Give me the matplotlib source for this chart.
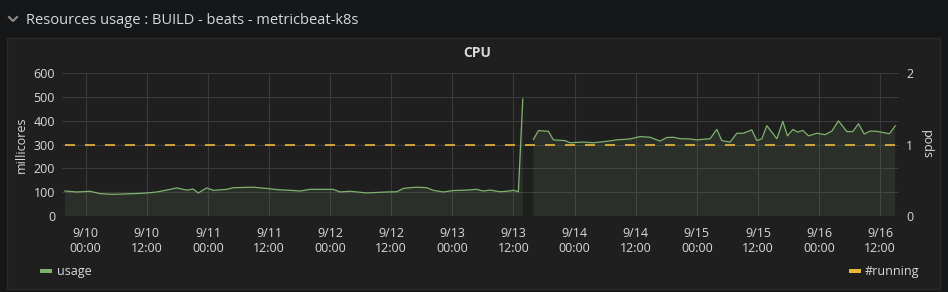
import numpy as np
import matplotlib
matplotlib.use('Agg')
import matplotlib.pyplot as plt
import matplotlib.dates as mdates
from matplotlib.lines import Line2D
from matplotlib.patches import Rectangle
from datetime import datetime, timedelta

# hours since 9/10 00:00 and CPU usage (millicores); NaN = no data
hours = [-4.07, -1.77, 0.84, 2.81, 5.42, 8.05, 10.66, 12.63, 13.94, 15.91,
         17.87, 19.84, 21.13, 22.11, 23.76, 25.06, 27.69, 28.99, 32.92, 35.55,
         37.51, 40.12, 42.09, 44.05, 46.02, 48.63, 49.95, 51.91, 55.19, 59.12,
         61.08, 62.38, 63.69, 65.01, 66.97, 68.27, 70.23, 72.20, 74.83, 76.79,
         78.09, 79.41, 81.37, 82.69, 83.98, 84.96, 85.83, 86.8,
         87.91, 88.89, 90.86, 91.84, 94.14, 95.12, 97.73, 99.69, 102.33, 104.29,
         106.90, 108.87, 110.83, 112.79, 114.11, 115.41, 116.72, 118.69, 120.00,
         122.61, 123.93, 124.91, 126.54, 127.86, 129.15, 130.80, 131.79, 132.77,
         133.75, 135.71, 136.89, 137.80, 138.86, 139.76, 140.82, 141.92, 143.57,
         145.20, 146.52, 147.81, 149.46, 150.64, 151.74, 152.86, 154.04, 155.35,
         157.32, 157.83, 158.95]
usage = [105, 101, 104, 94, 91, 93, 95, 98, 101, 109,
         118, 109, 113, 97, 118, 108, 112, 119, 121, 116,
         111, 108, 105, 112, 112, 112, 101, 104, 97, 101,
         102, 116, 119, 121, 119, 108, 101, 107, 109, 112,
         105, 109, 102, 104, 108, 102, 492, np.nan,
         322, 359, 356, 320, 317, 308, 311, 308, 314, 320,
         324, 334, 331, 315, 330, 331, 325, 324, 320,
         325, 364, 317, 311, 348, 348, 362, 317, 325,
         380, 325, 398, 337, 364, 353, 360, 337, 348,
         342, 357, 400, 355, 355, 388, 345, 357, 356,
         348, 346, 379]
running = [1, 1]
running_hours = [-4.07, 158.95]

t0 = datetime(2019, 9, 10)
times = [t0 + timedelta(hours=h) for h in hours]
run_times = [t0 + timedelta(hours=h) for h in running_hours]

bg = '#161719'
panel = '#1f1f20'
txt = '#d8d9da'
grid = '#3a3a3b'
green = '#7eb26d'
yellow = '#eab839'

plt.rcParams['font.family'] = ['Open Sans', 'DejaVu Sans']

fig = plt.figure(figsize=(9.48, 2.92), dpi=100, facecolor=bg)
W, H = 948, 292

# panel box
fig.add_artist(Rectangle((7 / W, 3 / H), 933 / W, 251 / H, transform=fig.transFigure,
                         facecolor=panel, edgecolor='#2a2a2b', lw=1, zorder=0))
# header chevron + title
fig.add_artist(Line2D([9 / W, 13 / W, 17 / W], [1 - 17 / H, 1 - 21 / H, 1 - 17 / H],
                      transform=fig.transFigure, color='#8e8e8e', lw=1.5))
fig.text(26 / W, 1 - 20 / H, 'Resources usage : BUILD - beats - metricbeat-k8s',
         color=txt, fontsize=10.5, va='center', ha='left')
fig.text(477 / W, 1 - 53 / H, 'CPU', color=txt, fontsize=10, fontweight='bold',
         va='center', ha='center')

ax = fig.add_axes([62 / W, 1 - 216 / H, 837 / W, 142.7 / H])
ax.set_facecolor(panel)
ax2 = ax.twinx()

u = np.array(usage, dtype=float)
ax.plot(times, u, color=green, lw=0.9, zorder=3)
ax.fill_between(times, 0, u, where=~np.isnan(u), color=green, alpha=0.12, lw=0, zorder=2)
ax2.plot(run_times, running, color=yellow, lw=1.2, dashes=(6, 6))

ax.set_xlim(t0 + timedelta(hours=-4.65), t0 + timedelta(hours=159.7))
ax.set_ylim(0, 600)
ax.set_yticks(range(0, 601, 100))
ax2.set_ylim(0, 2)
ax2.set_yticks([0, 1, 2])

ax.xaxis.set_major_locator(mdates.HourLocator(byhour=[0, 12]))
ax.xaxis.set_major_formatter(mdates.DateFormatter('%-m/%d\n%H:%M'))
ax.grid(True, color=grid, lw=0.8)

for a in (ax, ax2):
    for s in a.spines.values():
        s.set_visible(False)
    a.tick_params(colors=txt, labelsize=9, length=0, pad=5)
ax.tick_params(axis='x', pad=8)

ax.set_ylabel('millicores', color=txt, fontsize=9, labelpad=4)
ax2.set_ylabel('pods', color=txt, fontsize=9, rotation=270, labelpad=14)

# legend
fig.add_artist(Rectangle((40 / W, 1 - 273 / H), 12 / W, 4 / H, transform=fig.transFigure,
                         facecolor=green, edgecolor='none'))
fig.text(57 / W, 1 - 271 / H, 'usage', color=txt, fontsize=9, va='center', ha='left')
fig.add_artist(Rectangle((849 / W, 1 - 273 / H), 12 / W, 4 / H, transform=fig.transFigure,
                         facecolor=yellow, edgecolor='none'))
fig.text(865 / W, 1 - 271 / H, '#running', color=txt, fontsize=9, va='center', ha='left')

fig.savefig('out.png', dpi=100, facecolor=bg)
